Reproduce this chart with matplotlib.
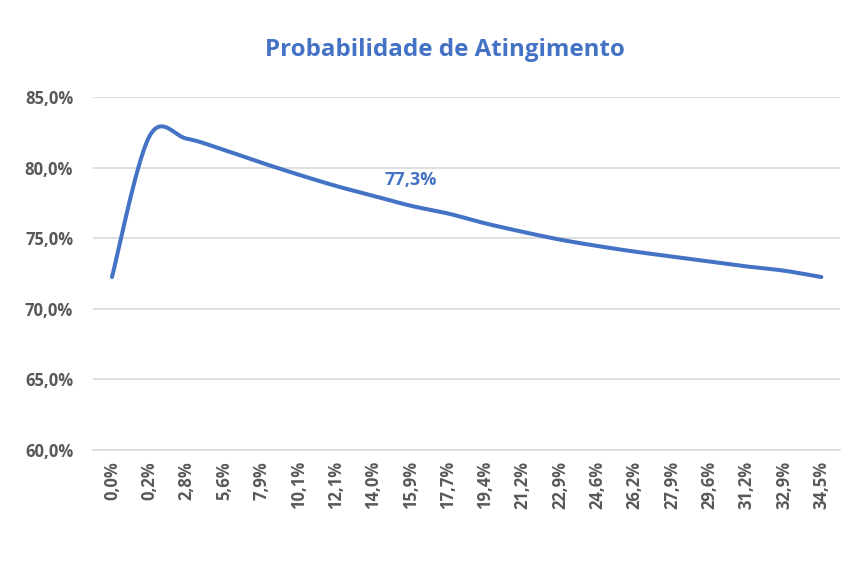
import numpy as np
import matplotlib
matplotlib.use("Agg")
import matplotlib.pyplot as plt
from matplotlib.ticker import FuncFormatter

categories = ["0,0%", "0,2%", "2,8%", "5,6%", "7,9%", "10,1%", "12,1%", "14,0%",
              "15,9%", "17,7%", "19,4%", "21,2%", "22,9%", "24,6%", "26,2%",
              "27,9%", "29,6%", "31,2%", "32,9%", "34,5%"]
values = [72.25, 82.2, 82.05, 81.25, 80.35, 79.5, 78.7, 78.0,
          77.3, 76.75, 76.05, 75.45, 74.9, 74.45, 74.05,
          73.7, 73.35, 73.0, 72.7, 72.25]
label_index = 8
label_text = "77,3%"
title = "Probabilidade de Atingimento"

BLUE = "#4472C4"
GRAY = "#595959"
FONT = "Open Sans"

def smooth(x, y, n=30):
    # Catmull-Rom style smoothing, like Excel's smoothed line
    x = np.asarray(x, float); y = np.asarray(y, float)
    px = np.concatenate([[x[0]], x, [x[-1]]])
    py = np.concatenate([[y[0]], y, [y[-1]]])
    xs, ys = [], []
    for i in range(1, len(px) - 2):
        p0, p1, p2, p3 = [np.array([px[j], py[j]]) for j in (i - 1, i, i + 1, i + 2)]
        c1 = p1 + (p2 - p0) / 6
        c2 = p2 - (p3 - p1) / 6
        t = np.linspace(0, 1, n)[:, None]
        b = ((1 - t) ** 3) * p1 + 3 * ((1 - t) ** 2) * t * c1 + 3 * (1 - t) * t ** 2 * c2 + t ** 3 * p2
        xs.append(b[:, 0]); ys.append(b[:, 1])
    return np.concatenate(xs), np.concatenate(ys)

fig = plt.figure(figsize=(8.57, 5.73), dpi=100)
ax = fig.add_axes([93.3 / 857, 1 - 450 / 573, (840 - 93.3) / 857, (450 - 97) / 573])

xpos = np.arange(len(categories))
sx, sy = smooth(xpos, values)
ax.plot(sx, sy, color=BLUE, lw=2.9, solid_capstyle="round", zorder=3)

ax.set_xlim(-0.5, len(categories) - 0.5)
ax.set_ylim(60, 85)
ax.set_yticks(np.arange(60, 86, 5))
ax.yaxis.set_major_formatter(FuncFormatter(lambda v, p: f"{v:.1f}%".replace(".", ",")))
ax.set_xticks(xpos)
ax.set_xticklabels(categories, rotation=90)
ax.grid(axis="y", color="#D9D9D9", lw=1.2)
ax.set_axisbelow(True)
for s in ["top", "right", "left"]:
    ax.spines[s].set_visible(False)
ax.spines["bottom"].set_color("#D9D9D9")
ax.spines["bottom"].set_linewidth(1.2)
ax.tick_params(length=0)
ax.tick_params(axis="y", pad=14.5)
ax.tick_params(axis="x", pad=8)
for lab in ax.get_yticklabels() + ax.get_xticklabels():
    lab.set_fontfamily(FONT)
    lab.set_fontweight("bold")
    lab.set_color(GRAY)
    lab.set_fontsize(12)

ax.annotate(label_text, (xpos[label_index], values[label_index]), xytext=(0, 12),
            textcoords="offset points", ha="center", va="bottom",
            color=BLUE, fontsize=13, fontweight="bold", fontfamily=FONT)

fig.text(445 / 857, 1 - 50 / 573, title, ha="center", va="center", color=BLUE,
         fontsize=17.4, fontweight="bold", fontfamily=FONT)

fig.savefig("out.png", dpi=100)
